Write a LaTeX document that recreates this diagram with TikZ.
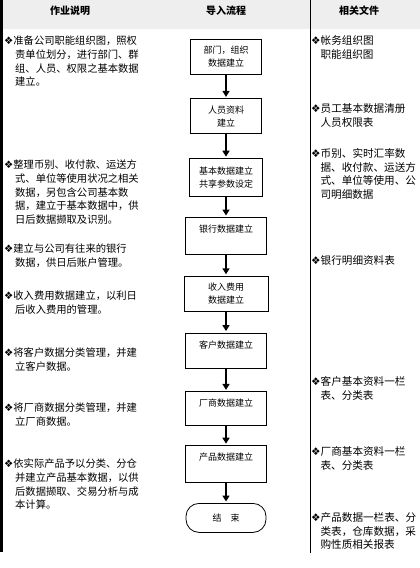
\documentclass[tikz,border=0pt]{standalone}
\usepackage{fontspec}
\setmainfont{Noto Sans CJK SC}
\newfontfamily\symfont{DejaVu Sans}
\usepackage{xcolor}
\definecolor{hgray}{RGB}{238,238,238}
\usepackage{tikz}
\usetikzlibrary{arrows.meta,positioning}
\newcommand{\dia}{{\symfont\char"2756}}
\newcommand{\nl}[1][11pt]{\\\hspace*{#1}}

\begin{document}
\begin{tikzpicture}[
  x=1pt,y=-1pt,
  node distance=21pt,
  head/.style={font=\bfseries\fontsize{10}{12}\selectfont,inner sep=0pt},
  proc/.style={rectangle,draw,line width=0.8pt,minimum width=71pt,minimum height=35pt,inner sep=4pt,align=center,font=\fontsize{9}{13}\selectfont},
  tproc/.style={proc,minimum width=81pt,minimum height=30pt,text height=11pt,text depth=#1},
  term/.style={proc,minimum width=80pt,minimum height=29pt,rounded corners=13pt},
  note/.style={anchor=north west,inner sep=0pt,align=left,font=\fontsize{10.3}{13.6}\selectfont},
  rnote/.style={note,font=\fontsize{10.6}{13.9}\selectfont},
  flow/.style={-{Triangle[length=6pt,width=7pt]},line width=1.6pt,shorten >=1.5pt}
]
  \useasboundingbox (0,0) rectangle (420,568);

  % === Header ===
  \fill[hgray] (0,0) rectangle (420,29);
  \node[head] (h1) at (70,11) {作业说明};
  \node[head] (h2) at (226,11) {导入流程};
  \node[head] (h3) at (359,11) {相关文件};
  \draw[line width=3pt] (1.5,0) -- (1.5,552);
  \draw[line width=0.9pt] (310,0) -- (310,553);

  % === Flow ===
  \node[proc] (b1) at (226,56.5) {部门，组织\\数据建立};
  \node[proc,below=24pt of b1] (b2) {人员资料\\建立};
  \node[proc,minimum width=73pt,minimum height=38pt,below=24pt of b2] (b3) {基本数据建立\\共享参数设定};
  \node[tproc=18pt,below=20pt of b3] (b4) {银行数据建立};
  \node[proc,minimum width=84pt,below=of b4] (b5) {收入费用\\数据建立};
  \node[tproc=16pt,below=of b5] (b6) {客户数据建立};
  \node[tproc=15pt,below=23pt of b6] (b7) {厂商数据建立};
  \node[tproc=18pt,below=19pt of b7] (b8) {产品数据建立};
  \node[term,below=20pt of b8] (end) {结　束};

  \draw[flow] (b1) -- (b2);
  \draw[flow] (b2) -- (b3);
  \draw[flow] (b3) -- (b4);
  \draw[flow] (b4) -- (b5);
  \draw[flow] (b5) -- (b6);
  \draw[flow] (b6) -- (b7);
  \draw[flow] (b7) -- (b8);
  \draw[flow] (b8) -- (end);

  % === Left notes ===
  \node[note] (l1) at (4,36) {\dia 准备公司职能组织图，照权\nl 责单位划分，进行部门、群\nl 组、人员、权限之基本数据\nl 建立。};
  \node[note] (l2) at (4,160) {\dia 整理币别、收付款、运送方\nl 式、单位等使用状况之相关\nl 数据，另包含公司基本数\nl 据，建立于基本数据中，供\nl 日后数据撷取及识别。};
  \node[note] (l3) at (4,244) {\dia 建立与公司有往来的银行\nl 数据，供日后账户管理。};
  \node[note] (l4) at (4,291) {\dia 收入费用数据建立，以利日\nl 后收入费用的管理。};
  \node[note] (l5) at (4,348) {\dia 将客户数据分类管理，并建\nl 立客户数据。};
  \node[note] (l6) at (4,403) {\dia 将厂商数据分类管理，并建\nl 立厂商数据。};
  \node[note] (l7) at (4,459) {\dia 依实际产品予以分类、分仓\nl 并建立产品基本数据，以供\nl 后数据撷取、交易分析与成\nl 本计算。};

  % === Right notes ===
  \node[rnote] (r1) at (311,35) {\dia 帐务组织图\nl[7pt] 职能组织图};
  \node[rnote] (r2) at (311,103) {\dia 员工基本数据清册\nl[7pt] 人员权限表};
  \node[rnote] (r3) at (311,148) {\dia 币别、实时汇率数\nl[7pt] 据、收付款、运送方\nl[7pt] 式、单位等使用、公\nl[7pt] 司明细数据};
  \node[rnote] (r4) at (311,255) {\dia 银行明细资料表};
  \node[rnote] (r5) at (311,376) {\dia 客户基本资料一栏\nl[7pt] 表、分类表};
  \node[rnote] (r6) at (311,446) {\dia 厂商基本资料一栏\nl[7pt] 表、分类表};
  \node[rnote] (r7) at (311,512) {\dia 产品数据一栏表、分\nl[7pt] 类表，仓库数据，采\nl[7pt] 购性质相关报表};
\end{tikzpicture}
\end{document}
